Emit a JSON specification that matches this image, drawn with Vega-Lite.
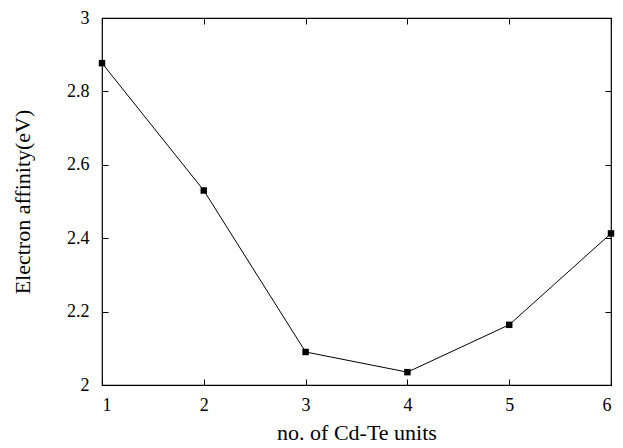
{
  "$schema": "https://vega.github.io/schema/vega-lite/v6.json",
  "width": 509,
  "height": 367,
  "autosize": "none",
  "padding": {"left": 102, "top": 18, "right": 12, "bottom": 63},
  "background": "white",
  "config": {
    "view": {"stroke": "black", "strokeWidth": 1.2},
    "font": "serif",
    "axis": {
      "domain": false,
      "grid": false,
      "tickColor": "black",
      "tickSize": -6,
      "tickWidth": 1,
      "labelFont": "serif",
      "labelFontSize": 18,
      "labelColor": "black",
      "titleFont": "serif",
      "titleFontSize": 22,
      "titleFontWeight": "normal",
      "titleColor": "black"
    }
  },
  "data": {
    "values": [
      {"n": 1, "ea": 2.877},
      {"n": 2, "ea": 2.53},
      {"n": 3, "ea": 2.09},
      {"n": 4, "ea": 2.035},
      {"n": 5, "ea": 2.164},
      {"n": 6, "ea": 2.413}
    ]
  },
  "layer": [
    {
      "mark": {"type": "line", "color": "black", "strokeWidth": 1},
      "encoding": {
        "x": {"field": "n", "type": "quantitative", "scale": {"domain": [1, 6], "nice": false},
              "axis": {"title": "no. of Cd-Te units", "values": [1,2,3,4,5,6], "labelPadding": 17, "titlePadding": 8, "format": "d"}},
        "y": {"field": "ea", "type": "quantitative", "scale": {"domain": [2, 3], "nice": false, "zero": false},
              "axis": {"title": "Electron affinity(eV)", "values": [2,2.2,2.4,2.6,2.8,3], "format": ".1~f", "labelPadding": 19, "titlePadding": 32}}
      }
    },
    {
      "mark": {"type": "square", "color": "black", "size": 42, "opacity": 1, "filled": true},
      "encoding": {
        "x": {"field": "n", "type": "quantitative", "scale": {"domain": [1, 6], "nice": false},
              "axis": {"orient": "top", "labels": false, "title": null, "values": [1,2,3,4,5,6]}},
        "y": {"field": "ea", "type": "quantitative", "scale": {"domain": [2, 3], "nice": false, "zero": false},
              "axis": {"orient": "right", "labels": false, "title": null, "values": [2,2.2,2.4,2.6,2.8,3]}}
      }
    }
  ],
  "resolve": {"axis": {"x": "independent", "y": "independent"}}
}
